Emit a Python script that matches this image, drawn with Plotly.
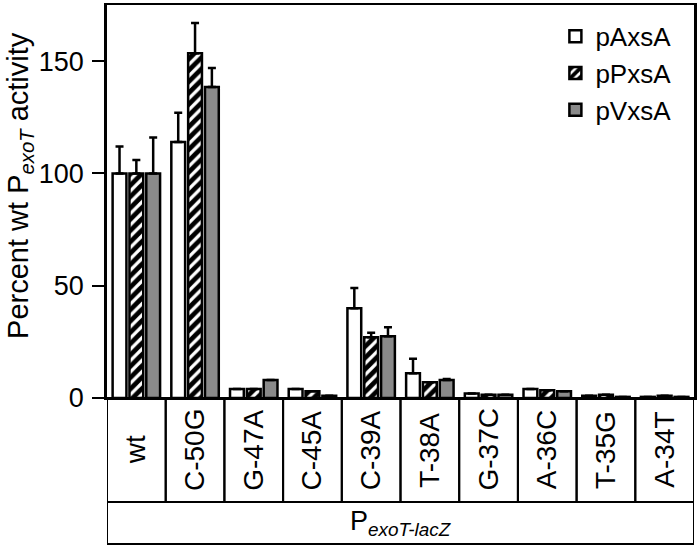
import plotly.graph_objects as go

categories = ["wt", "C-50G", "G-47A", "C-45A", "C-39A", "T-38A", "G-37C", "A-36C", "T-35G", "A-34T"]
series_names = ["pAxsA", "pPxsA", "pVxsA"]
pA_values = [100, 114, 4, 4, 40, 11, 2, 4, 1, 0.5]
pA_err_top = [112, 127, 4, 4, 49, 17.5, 2, 4, 1, 0.5]
pP_values = [100, 153.5, 4, 3, 27, 7, 1.5, 3.5, 1.5, 1]
pP_err_top = [106, 167, 4, 3, 29, 7, 1.5, 3.5, 1.5, 1]
pV_values = [100, 138.5, 8, 1, 27.5, 8, 1.5, 3, 0.5, 0.5]
pV_err_top = [116, 147, 8, 1, 31.5, 8.5, 1.5, 3, 0.5, 0.5]
y_ticks = [0, 50, 100, 150]
y_title = "Percent wt P<sub><i>exoT</i></sub> activity"
group_title = "P<sub><i>exoT-lacZ</i></sub>"

FONT = "Liberation Sans, Arial, sans-serif"

fig = go.Figure()
styles = [
    dict(color="white"),
    dict(color="white", pattern=dict(shape="/", fgcolor="black", bgcolor="white",
                                     size=8, solidity=0.6, fgopacity=1)),
    dict(color="#8a8a8a"),
]
for name, vals, tops, st in zip(series_names, [pA_values, pP_values, pV_values],
                                [pA_err_top, pP_err_top, pV_err_top], styles):
    fig.add_trace(go.Bar(
        x=categories, y=vals, name=name,
        marker=dict(line=dict(color="black", width=2.5), **st),
        error_y=dict(type="data", symmetric=False,
                     array=[t - v for t, v in zip(tops, vals)],
                     arrayminus=[0] * len(vals),
                     color="black", thickness=2.5, width=4),
    ))

# table below the plot
ROW_BOTTOM = -0.2646
BOX_BOTTOM = -0.3715
for i, c in enumerate(categories):
    fig.add_shape(type="rect", xref="x", yref="paper", x0=i - 0.5, x1=i + 0.5,
                  y0=ROW_BOTTOM, y1=0, line=dict(color="black", width=2))
    fig.add_annotation(x=c, xref="x", yref="paper", y=ROW_BOTTOM / 2, text=c,
                       textangle=-90, showarrow=False, xanchor="center", yanchor="middle",
                       font=dict(family=FONT, size=28, color="black"))
fig.add_shape(type="rect", xref="x", yref="paper", x0=-0.5, x1=len(categories) - 0.5,
              y0=BOX_BOTTOM, y1=ROW_BOTTOM, line=dict(color="black", width=2))
fig.add_annotation(x=0.5, xref="paper", yref="paper", y=(ROW_BOTTOM + BOX_BOTTOM) / 2,
                   text=group_title, showarrow=False, xanchor="center", yanchor="middle",
                   font=dict(family=FONT, size=27, color="black"))
fig.add_annotation(x=-0.148, xref="paper", yref="paper", y=0.54, text=y_title,
                   textangle=-90, showarrow=False, xanchor="center", yanchor="middle",
                   font=dict(family=FONT, size=29, color="black"))

fig.update_layout(
    width=700, height=549,
    margin=dict(l=107, r=3, t=5, b=151),
    paper_bgcolor="white", plot_bgcolor="white",
    barmode="group", bargap=0.14, bargroupgap=0.18,
    showlegend=True,
    legend=dict(x=0.97, y=0.98, xanchor="right", yanchor="top",
                font=dict(family=FONT, size=26, color="black"),
                bgcolor="rgba(0,0,0,0)", tracegroupgap=0),
    xaxis=dict(range=[-0.5, len(categories) - 0.5], showticklabels=False, ticks="",
               showline=True, linecolor="black", linewidth=2, mirror=True,
               showgrid=False, zeroline=False),
    yaxis=dict(range=[0, 175], tickvals=y_ticks, ticks="outside", ticklen=12, tickwidth=2,
               tickcolor="black", showline=True, linecolor="black", linewidth=2.5,
               mirror=True, showgrid=False, zeroline=False, ticklabelstandoff=3,
               tickfont=dict(family=FONT, size=27, color="black")),
    font=dict(family=FONT, color="black"),
)

fig.write_html("out.html", config={"displayModeBar": False},
               post_script="document.body.style.margin='0px';")
